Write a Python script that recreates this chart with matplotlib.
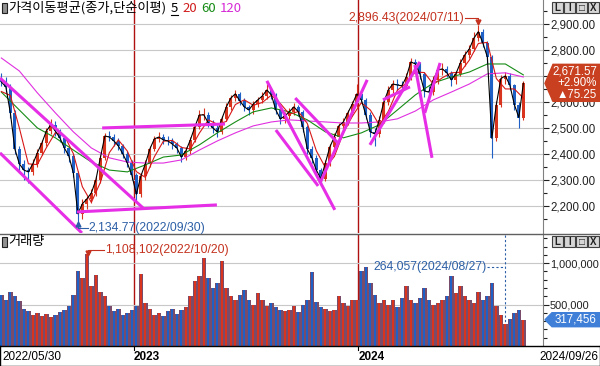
import numpy as np
import matplotlib
matplotlib.use("Agg")
import matplotlib.pyplot as plt
from matplotlib.lines import Line2D
from matplotlib.patches import Polygon, Rectangle
from matplotlib.ticker import FixedLocator, FuncFormatter
from matplotlib.transforms import blended_transform_factory

plt.rcParams['font.family'] = ['Liberation Sans', 'DejaVu Sans']
KR = ['Noto Sans CJK KR', 'DejaVu Sans']

# KOSPI, one point per week (2022/05/30 - 2024/09/26)
first_open = 2690
closes = [2677, 2658, 2558, 2419, 2362, 2338, 2331, 2362, 2404, 2442,
          2488, 2512, 2488, 2462, 2423, 2392, 2327, 2170, 2208, 2227,
          2250, 2300, 2385, 2469, 2465, 2450, 2431, 2400, 2365, 2319,
          2245, 2315, 2362, 2419, 2458, 2465, 2454, 2450, 2438, 2423,
          2388, 2412, 2454, 2504, 2550, 2550, 2519, 2500, 2485, 2535,
          2581, 2615, 2631, 2604, 2581, 2569, 2592, 2608, 2623, 2646,
          2627, 2569, 2535, 2546, 2562, 2581, 2562, 2504, 2419, 2385,
          2338, 2304, 2365, 2427, 2465, 2508, 2523, 2558, 2592, 2631,
          2608, 2550, 2485, 2477, 2531, 2600, 2646, 2669, 2665, 2662,
          2696, 2754, 2746, 2708, 2642, 2638, 2685, 2723, 2727, 2712,
          2685, 2708, 2750, 2781, 2804, 2845, 2870, 2827, 2773, 2460,
          2590, 2690, 2700, 2665, 2590, 2540, 2671.57]
highs = [2710, 2695, 2668, 2570, 2430, 2375, 2350, 2380, 2420, 2455,
         2500, 2533, 2525, 2495, 2470, 2430, 2400, 2335, 2225, 2240,
         2265, 2315, 2395, 2480, 2490, 2475, 2460, 2440, 2410, 2375,
         2325, 2325, 2375, 2430, 2470, 2485, 2475, 2470, 2460, 2445,
         2430, 2425, 2465, 2515, 2570, 2575, 2560, 2530, 2510, 2545,
         2595, 2625, 2645, 2640, 2615, 2590, 2605, 2620, 2640, 2668,
         2655, 2635, 2575, 2560, 2575, 2595, 2590, 2570, 2510, 2430,
         2395, 2345, 2375, 2440, 2480, 2520, 2540, 2570, 2605, 2670,
         2645, 2615, 2560, 2500, 2545, 2610, 2660, 2685, 2690, 2680,
         2710, 2770, 2765, 2755, 2715, 2660, 2700, 2740, 2750, 2740,
         2720, 2720, 2765, 2795, 2820, 2870, 2896.43, 2880, 2835, 2780,
         2605, 2705, 2715, 2710, 2670, 2600, 2680]
lows = [2660, 2640, 2540, 2400, 2330, 2300, 2290, 2320, 2350, 2395,
        2430, 2475, 2470, 2445, 2405, 2370, 2310, 2134.77, 2150, 2190,
        2210, 2240, 2290, 2375, 2450, 2430, 2415, 2385, 2350, 2300,
        2220, 2235, 2300, 2350, 2410, 2445, 2440, 2435, 2420, 2405,
        2370, 2375, 2400, 2445, 2495, 2530, 2505, 2480, 2465, 2475,
        2525, 2570, 2605, 2590, 2565, 2550, 2555, 2580, 2595, 2610,
        2610, 2555, 2515, 2520, 2535, 2550, 2545, 2485, 2400, 2365,
        2320, 2277, 2295, 2355, 2415, 2455, 2495, 2510, 2545, 2580,
        2595, 2535, 2465, 2430, 2465, 2520, 2590, 2635, 2645, 2640,
        2650, 2685, 2725, 2690, 2620, 2600, 2625, 2670, 2705, 2695,
        2660, 2670, 2700, 2740, 2770, 2795, 2835, 2810, 2750, 2386,
        2450, 2580, 2670, 2645, 2570, 2500, 2530]
volume_k = [620, 560, 650, 600, 540, 450, 420, 380, 400, 360,
            390, 350, 370, 410, 430, 480, 620, 900, 820, 1108.102,
            720, 860, 650, 600, 480, 420, 450, 380, 400, 430,
            480, 870, 520, 450, 380, 400, 360, 420, 450, 390,
            430, 470, 600, 780, 850, 1060, 820, 700, 760, 1030,
            700, 600, 550, 620, 680, 560, 500, 640, 560, 480,
            520, 470, 430, 420, 440, 480, 410, 500, 560, 890,
            530, 470, 450, 420, 440, 600, 520, 480, 560, 560,
            900, 950, 760, 620, 520, 560, 500, 560, 470, 580,
            720, 560, 520, 580, 700, 560, 500, 520, 560, 600,
            840, 640, 720, 600, 560, 520, 650, 560, 600, 760,
            480, 380, 264.057, 330, 400, 430, 317.456]

# moving averages (20: every 2 weeks, 60/120: every 4 weeks)
ma20 = [2640, 2625, 2500, 2362, 2359, 2424, 2482, 2471, 2401, 2274,
        2214, 2290, 2405, 2454, 2411, 2332, 2310, 2389, 2449, 2452,
        2425, 2419, 2480, 2531, 2514, 2525, 2590, 2608, 2587, 2598,
        2626, 2594, 2553, 2563, 2517, 2412, 2348, 2390, 2481, 2545,
        2597, 2569, 2511, 2564, 2645, 2673, 2715, 2713, 2668, 2693,
        2712, 2714, 2761, 2825, 2829, 2690, 2650, 2650, 2615]
ma60 = [2638, 2569, 2500, 2462, 2415, 2369, 2338, 2331, 2358, 2388,
        2396, 2435, 2481, 2523, 2562, 2577, 2562, 2531, 2485, 2462,
        2481, 2512, 2569, 2627, 2673, 2696, 2715, 2746, 2746, 2704]
ma120 = [2769, 2719, 2635, 2558, 2485, 2423, 2385, 2369, 2365, 2365,
         2377, 2415, 2450, 2481, 2508, 2523, 2531, 2527, 2523, 2519,
         2519, 2523, 2535, 2565, 2608, 2638, 2669, 2708, 2712, 2696]

year_marks = [29.5, 79.3]
year_labels = ["2023", "2024"]
start_label, end_label = "2022/05/30", "2024/09/26"

peak = (106, 2896.43, "2,896.43(2024/07/11)")
trough = (17, 2134.77, "2,134.77(2022/09/30)")
vol_max = (19, 1108102, "1,108,102(2022/10/20)")
vol_min = (112, 264057, "264,057(2024/08/27)")
last_lines = ["2,671.57", "+2.90%", "\u25b275.25"]
last_vol_label = "317,456"

# hand-drawn trend lines (week, price)
trend_lines = [((-0.3, 2692), (31.5, 2192)), ((-0.3, 2404), (17.9, 2096)),
               ((16.8, 2177), (47.9, 2204)), ((22.4, 2500), (49.7, 2515)),
               ((59.0, 2681), (74.1, 2185)), ((61.0, 2492), (70.4, 2277)),
               ((65.3, 2615), (74.8, 2442)), ((70.8, 2288), (81.3, 2685)),
               ((81.9, 2435), (93.0, 2754)), ((84.8, 2608), (90.8, 2658)),
               ((91.9, 2742), (95.7, 2385)), ((94.1, 2558), (97.5, 2750))]

UP, DN = '#d8341e', '#1f60c6'
VOL_MIX = '#7a4c6c'
RED_TXT, BLUE_TXT = '#c4321f', '#2c5fa6'
TREND = '#e62ee6'

W, H = 600, 366
fig = plt.figure(figsize=(W / 100, H / 100), dpi=100)


def fx(x):
    return x / W


def fy(y):
    return 1 - y / H


def axes_px(x0, y0, x1, y1):
    return fig.add_axes([fx(x0), fy(y1), (x1 - x0) / W, (y1 - y0) / H])


def line_px(xs, ys, **kw):
    fig.add_artist(Line2D([fx(x) for x in xs], [fy(y) for y in ys],
                          transform=fig.transFigure, **kw))


def text_px(x, y, s, **kw):
    return fig.text(fx(x), fy(y), s, **kw)


def to_px(ax, x, y):
    dx, dy = ax.transData.transform((x, y))
    return dx, H - dy


ax_p = axes_px(0, 0, 543, 233)
ax_v = axes_px(0, 235, 543, 346)
ax_d = axes_px(0, 346, 600, 366)

weeks = np.arange(len(closes))
c = np.array(closes, dtype=float)
o = np.array([first_open] + closes[:-1], dtype=float)
up = c >= o
colors = np.where(up, UP, DN)
xlim = (-0.3, 543 / 4.5 - 0.3)

for ax, lsize in ((ax_p, 8.3), (ax_v, 7.9)):
    ax.set_xlim(*xlim)
    ax.set_xticks([])
    for s in ('top', 'left', 'bottom'):
        ax.spines[s].set_visible(False)
    ax.spines['right'].set_color('#808080')
    ax.yaxis.tick_right()
    ax.tick_params(axis='y', which='both', direction='out', colors='#202020',
                   labelsize=lsize, pad=1, width=0.8)
    ax.tick_params(axis='y', which='major', length=4)
    ax.tick_params(axis='y', which='minor', length=3)
    for xm in year_marks:
        ax.axvline(xm, color='#b01010', lw=1, zorder=1)

# price pane (the 2,700 label sits under the last-price badge)
ax_p.set_ylim(2096, 2992)
ax_p.yaxis.set_major_locator(FixedLocator(range(2200, 3000, 100)))
ax_p.yaxis.set_minor_locator(FixedLocator(range(2150, 3000, 100)))
ax_p.yaxis.set_major_formatter(
    FuncFormatter(lambda v, _: "" if v == 2700 else f"{v:,.2f}"))
ax_p.grid(axis='y', which='major', color='#c8c8c8', lw=0.8, zorder=0)

ax_p.vlines(weeks, lows, highs, colors=colors, lw=0.8, zorder=2)
body = np.maximum(np.abs(c - o), 3)
ax_p.bar(weeks, body, bottom=np.minimum(o, c), width=0.62, color=colors, zorder=2)

ax_p.plot(np.arange(len(ma120)) * 4, ma120, color='#e030e0', lw=0.8, zorder=3)
ax_p.plot(np.arange(len(ma60)) * 4, ma60, color='#168c16', lw=0.8, zorder=3)
ax_p.plot(np.arange(len(ma20)) * 2, ma20, color='#d81818', lw=0.8, zorder=3)
ax_p.plot(weeks, c, color='black', lw=0.8, zorder=3)

for (x0, y0), (x1, y1) in trend_lines:
    ax_p.plot([x0, x1], [y0, y1], color=TREND, lw=2.2, solid_capstyle='butt',
              zorder=4, clip_on=True)

# volume pane: dense daily bars blend into purple, a coloured core shows direction
ax_v.set_ylim(0, 1340000)
ax_v.yaxis.set_major_locator(FixedLocator([500000, 1000000]))
ax_v.yaxis.set_minor_locator(FixedLocator(range(100000, 1340000, 100000)))
ax_v.yaxis.set_major_formatter(FuncFormatter(lambda v, _: f"{int(v):,}"))
ax_v.grid(axis='y', which='major', color='#c8c8c8', lw=0.8, zorder=0)
vol = np.array(volume_k) * 1000
ax_v.bar(weeks, vol, width=1.0, color=VOL_MIX, zorder=2)
ax_v.bar(weeks, vol, width=0.45, color=colors, zorder=2)

# date strip
ax_d.set_xticks([])
ax_d.set_yticks([])
for s in ax_d.spines.values():
    s.set_color('black')
    s.set_linewidth(1)
ax_d.text(2 / 600, 0.45, start_label, transform=ax_d.transAxes, ha='left',
          va='center', fontsize=8.5)
ax_d.text(598 / 600, 0.45, end_label, transform=ax_d.transAxes, ha='right',
          va='center', fontsize=8.5)
bt = blended_transform_factory(ax_p.transData, ax_d.transAxes)
for xm, lab in zip(year_marks, year_labels):
    ax_d.text(xm, 0.45, lab, transform=bt, ha='left', va='center', fontsize=8.5,
              fontweight='bold')
    ax_d.plot([xm, xm], [1, 0.78], transform=bt, color='black', lw=0.8)

# pane separator
line_px([0, 600], [234, 234], color='#606060', lw=1)

# annotations
px, py = to_px(ax_p, peak[0], peak[1])
line_px([px - 13, px, px], [py - 7, py - 7, py - 3], color=RED_TXT, lw=0.8)
line_px([px], [py - 3], marker='v', ms=3.5, color=RED_TXT, lw=0)
text_px(px - 14, py - 7, peak[2], color=RED_TXT, fontsize=8.8, ha='right', va='center')

px, py = to_px(ax_p, trough[0], trough[1])
line_px([px, px, px + 10], [py + 1, py + 5, py + 5], color=BLUE_TXT, lw=0.8)
line_px([px], [py + 1], marker='^', ms=3.5, color=BLUE_TXT, lw=0)
text_px(px + 11, py + 5, trough[2], color=BLUE_TXT, fontsize=8.8, ha='left', va='center')

px, py = to_px(ax_v, vol_max[0], vol_max[1])
line_px([px + 17, px + 1, px + 1], [py - 4, py - 4, py - 1], color=RED_TXT, lw=0.8)
line_px([px + 1], [py - 1], marker='v', ms=3.5, color=RED_TXT, lw=0)
text_px(px + 18, py - 4, vol_max[2], color=RED_TXT, fontsize=8.8, ha='left', va='center')

px, py = to_px(ax_v, vol_min[0], vol_min[1])
line_px([px, px], [235, py - 2], color=BLUE_TXT, lw=0.8, ls=(0, (2, 2)))
line_px([px - 18, px], [267, 267], color=BLUE_TXT, lw=0.8, ls=(0, (2, 2)))
text_px(px - 19, 267, vol_min[2], color=BLUE_TXT, fontsize=8.8, ha='right', va='center')

# last value badges
_, by = to_px(ax_p, 116, closes[-1])
fig.add_artist(Polygon([(fx(545), fy(by)), (fx(553), fy(by - 19)), (fx(600), fy(by - 19)),
                        (fx(600), fy(by + 18)), (fx(553), fy(by + 18))],
                       closed=True, transform=fig.transFigure, color='#c8401f'))
for k, s in enumerate(last_lines):
    text_px(597, by - 12 + 12 * k, s, color='white', fontsize=8.3, ha='right', va='center')

_, vy = to_px(ax_v, 116, vol[-1])
fig.add_artist(Polygon([(fx(545), fy(vy)), (fx(552), fy(vy - 7)), (fx(600), fy(vy - 7)),
                        (fx(600), fy(vy + 7)), (fx(552), fy(vy + 7))],
                       closed=True, transform=fig.transFigure, color='#3f7fd8'))
text_px(596, vy, last_vol_label, color='white', fontsize=8.3, ha='right', va='center')

# window buttons
for top in (2, 236):
    for k, g in enumerate(["L", "I", "\u25a1", "X"]):
        x0 = 552 + 12 * k
        fig.add_artist(Rectangle((fx(x0), fy(top + 11)), 11 / W, 11 / H,
                                 transform=fig.transFigure, facecolor='#d6d6d6',
                                 edgecolor='#404040', lw=0.8))
        text_px(x0 + 5.5, top + 5.8, g, fontsize=7, ha='center', va='center',
                fontweight='bold', color='#202020')

# pane titles
renderer = fig.canvas.get_renderer()
for top in (3, 237):
    fig.add_artist(Rectangle((fx(2), fy(top + 10)), 5 / W, 10 / H, transform=fig.transFigure,
                             facecolor='#909090', edgecolor='#202020', lw=0.8))

title_parts = [("가격이동평균(종가,단순이평)", 'black'), ("5", 'black'),
               ("20", '#d01c1c'), ("60", '#138a13'), ("120", '#d62ad6')]
x = 8
for k, (s, col) in enumerate(title_parts):
    t = text_px(x, 8, s, color=col, family=KR, fontsize=9.5, va='center', ha='left')
    w = t.get_window_extent(renderer).width
    if k == 1:
        line_px([x, x + w], [15, 15], color='black', lw=0.8)
    x += w + (5 if k == 0 else 4)

text_px(8, 242, "거래량", family=KR, fontsize=9.5, va='center', ha='left')

fig.savefig("out.png", dpi=100)
